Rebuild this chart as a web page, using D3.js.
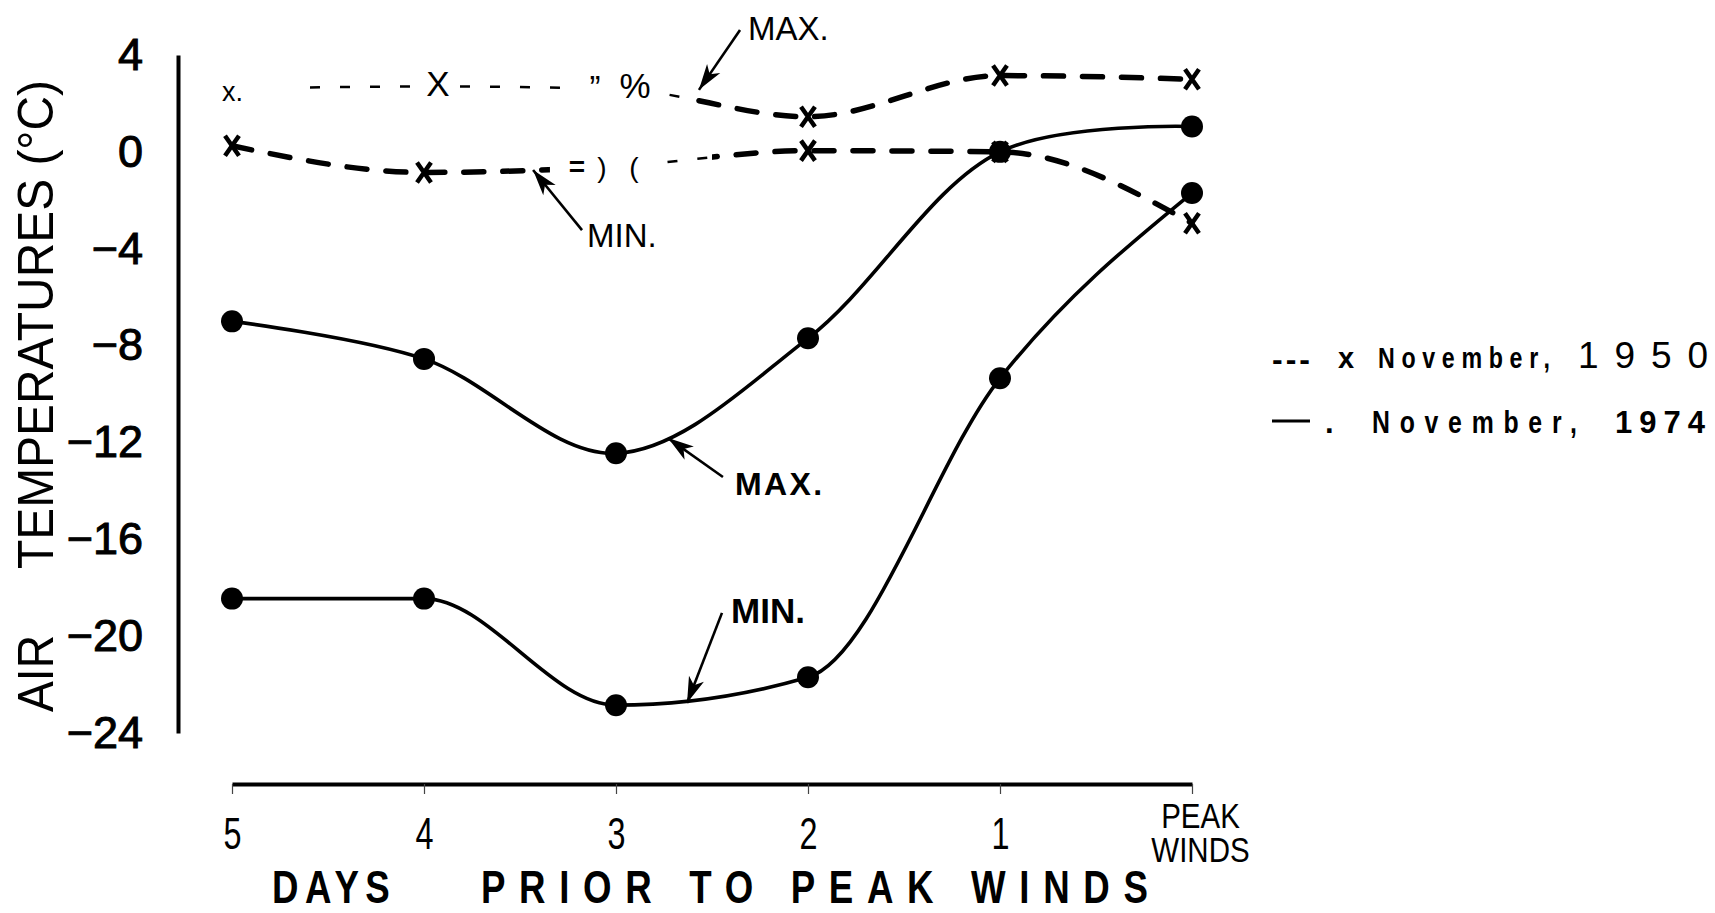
<!DOCTYPE html>
<html>
<head>
<meta charset="utf-8">
<script src="https://cdn.jsdelivr.net/npm/d3@7"></script>
<style>
  body { margin: 0; background: #fff; }
  svg { display: block; }
  text { font-family: "Liberation Sans", Arial, sans-serif; fill: #000; }
</style>
</head>
<body>
<script>
// days before the peak winds
const days = ["5", "4", "3", "2", "1", "PEAK WINDS"];
const max1974 = [-7.0, -8.55, -12.45, -7.7, 0.0, 1.05];
const min1974 = [-18.45, -18.45, -22.85, -21.7, -9.35, -1.7];
const max1950 = [2.6, 2.7, 2.6, 1.45, 3.15, 3.0];
const min1950 = [0.25, -0.85, -0.6, 0.05, 0.0, -2.95];
const yTicks = [4, 0, -4, -8, -12, -16, -20, -24];

const W = 1715, H = 913;
const svg = d3.select("body").append("svg").attr("width", W).attr("height", H);

const x = d3.scalePoint().domain(days).range([232, 1192]);
const xi = d3.scaleLinear().domain([0, days.length - 1]).range([232, 1192]); // fractional day index
const y = d3.scaleLinear().domain([-24, 4]).range([733, 55]);

const lineOf = curve => d3.line()
    .x((d, i) => x(days[i]))
    .y(d => y(d))
    .curve(curve);
const line = lineOf(d3.curveMonotoneX);
const lineRound = lineOf(d3.curveCatmullRom.alpha(0.5));

const defs = svg.append("defs");
defs.append("marker")
    .attr("id", "ah")
    .attr("markerUnits", "userSpaceOnUse")
    .attr("viewBox", "-27 -10 29 20")
    .attr("markerWidth", 29).attr("markerHeight", 20)
    .attr("refX", 0).attr("refY", 0)
    .attr("orient", "auto")
  .append("path")
    .attr("d", "M0,0L-26,-8L-19,0L-26,8Z");

// where the scanned 1950 curves are thick, thin or broken (in day index units)
const clips = {
  maxThick: [[2.375, 6]],
  maxThin: [[0.38, 1.78], [2.2, 2.375]],
  minThick: [[-1, 1.656], [2.5, 6]],
  minThin: [[2.2, 2.5]]
};
Object.entries(clips).forEach(([id, spans]) => {
  let cp = defs.append("clipPath").attr("id", id);
  spans.forEach(([a, b]) => {
    cp.append("rect").attr("x", xi(a)).attr("y", 0).attr("width", xi(b) - xi(a)).attr("height", H);
  });
});

// axes
let ya = svg.append("g")
    .attr("transform", "translate(178,0)")
    .call(d3.axisLeft(y).tickValues(yTicks).tickSize(0).tickSizeOuter(0).tickPadding(35));
ya.attr("font-family", null).attr("font-size", null);
ya.select(".domain").attr("stroke-width", 4);
ya.selectAll("text")
    .attr("font-size", 45)
    .attr("stroke", "#000").attr("stroke-width", 1);

let xa = svg.append("g")
    .attr("transform", "translate(0,784)")
    .call(d3.axisBottom(x).tickSize(10).tickSizeOuter(0).tickPadding(23));
xa.attr("font-family", null).attr("font-size", null);
xa.select(".domain").attr("stroke-width", 4);
xa.selectAll(".tick line").attr("stroke-width", 1.2).attr("stroke", "#444");
xa.selectAll(".tick text")
    .attr("font-family", "Inter, Roboto, 'DejaVu Sans', sans-serif")
    .attr("font-weight", 200)
    .attr("font-size", 45)
    .attr("transform", "scale(0.72,1)");
xa.selectAll(".tick text").filter(d => d === "PEAK WINDS")
    .text(null)
    .attr("font-family", "'Liberation Sans', sans-serif")
    .attr("font-weight", 400)
    .attr("font-size", 36)
    .attr("y", null).attr("dy", null)
    .attr("transform", "translate(8,0) scale(0.82,1)")
    .selectAll("tspan")
    .data(["PEAK", "WINDS"])
    .enter().append("tspan")
    .attr("x", 0)
    .attr("y", (d, i) => 44 + i * 34)
    .text(d => d);

// axis titles
svg.append("text")
    .attr("transform", "translate(53,712) rotate(-90)")
    .attr("font-size", 50)
    .attr("textLength", 77).attr("lengthAdjust", "spacingAndGlyphs")
    .text("AIR");
svg.append("text")
    .attr("transform", "translate(53,569) rotate(-90)")
    .attr("font-size", 50)
    .attr("textLength", 489).attr("lengthAdjust", "spacingAndGlyphs")
    .text("TEMPERATURES (°C)");

svg.append("text")
    .attr("transform", "translate(272,903) scale(0.78,1)")
    .attr("font-size", 47).attr("font-weight", "bold")
    .attr("textLength", 151).attr("lengthAdjust", "spacing")
    .text("DAYS");
svg.append("text")
    .attr("transform", "translate(481,903) scale(0.78,1)")
    .attr("font-size", 47).attr("font-weight", "bold")
    .attr("textLength", 855).attr("lengthAdjust", "spacing")
    .text("PRIOR TO PEAK WINDS");

// 1950 dashed curves
[max1950, min1950].forEach((vals, k) => {
  let thick = k === 0 ? "maxThick" : "minThick";
  let thin = k === 0 ? "maxThin" : "minThin";
  svg.append("path")
      .attr("d", line(vals))
      .attr("fill", "none").attr("stroke", "#000")
      .attr("stroke-width", 5.5).attr("stroke-linecap", "round")
      .attr("stroke-dasharray", "20,19")
      .attr("clip-path", `url(#${thick})`);
  svg.append("path")
      .attr("d", line(vals))
      .attr("fill", "none").attr("stroke", "#000")
      .attr("stroke-width", 2.5)
      .attr("stroke-dasharray", "10,20")
      .attr("stroke-dashoffset", -18)
      .attr("clip-path", `url(#${thin})`);
});

// bold x markers of 1950 (the others came out as stray characters in the scan)
const crossPts = [
  ...[3, 4, 5].map(i => [i, max1950[i]]),
  ...[0, 1, 3, 4, 5].map(i => [i, min1950[i]])
];
svg.selectAll("path.cross")
  .data(crossPts)
  .enter().append("path")
    .attr("class", "cross")
    .attr("transform", d => `translate(${x(days[d[0]])},${y(d[1])})`)
    .attr("d", "M-7,-10L7,10M7,-10L-7,10")
    .attr("stroke", "#000").attr("stroke-width", 4.5).attr("fill", "none");

const stray = [
  {t: "x.", s: max1950, i: 0, dx: -10, dy: 12, size: 27, anchor: "start", w: 400},
  {t: "X", s: max1950, i: 1, dx: 14, dy: 10, size: 35, anchor: "middle", w: 400},
  {t: "\u201d", s: max1950, i: 2, dx: -21, dy: 10, size: 33, anchor: "middle", w: 400},
  {t: "%", s: max1950, i: 2, dx: 19, dy: 9, size: 35, anchor: "middle", w: 400},
  {t: "=", s: min1950, i: 2, dx: -39, dy: 10, size: 28, anchor: "middle", w: 700},
  {t: ")", s: min1950, i: 2, dx: -14, dy: 11, size: 28, anchor: "middle", w: 400},
  {t: "(", s: min1950, i: 2, dx: 18, dy: 11, size: 28, anchor: "middle", w: 400}
];
svg.selectAll("text.stray")
  .data(stray)
  .enter().append("text")
    .attr("class", "stray")
    .attr("x", d => x(days[d.i]) + d.dx)
    .attr("y", d => y(d.s[d.i]) + d.dy)
    .attr("font-size", d => d.size)
    .attr("font-weight", d => d.w)
    .attr("text-anchor", d => d.anchor)
    .attr("stroke", "#fff").attr("stroke-width", 8)
    .attr("paint-order", "stroke")
    .text(d => d.t);

// 1974 solid curves with dots
[[max1974, lineRound], [min1974, line]].forEach(([vals, ln]) => {
  svg.append("path")
      .attr("d", ln(vals))
      .attr("fill", "none").attr("stroke", "#000").attr("stroke-width", 3.6);
  svg.append("g").selectAll("circle")
    .data(vals)
    .enter().append("circle")
      .attr("cx", (d, i) => x(days[i]))
      .attr("cy", d => y(d))
      .attr("r", 11);
});

// arrows and labels, in day index / degree units
const notes = [
  {t: "MAX.", from: [2.646, 5.03], to: [2.432, 2.56], at: [2.6875, 4.62], size: 33, w: 400, len: null},
  {t: "MIN.", from: [1.823, -3.23], to: [1.568, -0.75], at: [1.849, -3.93], size: 33, w: 400, len: null},
  {t: "MAX.", from: [2.557, -13.43], to: [2.271, -11.82], at: [2.62, -14.17], size: 32, w: 700, len: 87},
  {t: "MIN.", from: [2.552, -19.04], to: [2.37, -22.76], at: [2.599, -19.46], size: 35, w: 700, len: null}
];
notes.forEach(n => {
  svg.append("line")
      .attr("x1", xi(n.from[0])).attr("y1", y(n.from[1]))
      .attr("x2", xi(n.to[0])).attr("y2", y(n.to[1]))
      .attr("stroke", "#000").attr("stroke-width", 2.6)
      .attr("marker-end", "url(#ah)");
  let t = svg.append("text")
      .attr("x", xi(n.at[0])).attr("y", y(n.at[1]))
      .attr("font-size", n.size).attr("font-weight", n.w)
      .text(n.t);
  if (n.len) t.attr("textLength", n.len).attr("lengthAdjust", "spacing");
});

// legend
const lg = svg.append("g");
lg.append("text").attr("x", 1272).attr("y", 370)
    .attr("font-size", 32).attr("font-weight", "bold")
    .attr("textLength", 38).attr("lengthAdjust", "spacing").text("---");
lg.append("text").attr("x", 1338).attr("y", 368)
    .attr("font-size", 29).attr("font-weight", "bold").text("x");
lg.append("text").attr("transform", "translate(1378,368) scale(0.8,1)")
    .attr("font-size", 29).attr("font-weight", "bold")
    .attr("textLength", 215).attr("lengthAdjust", "spacing").text("November,");
lg.append("text").attr("x", 1578).attr("y", 368)
    .attr("font-size", 37)
    .attr("textLength", 130).attr("lengthAdjust", "spacing").text("1950");

lg.append("line").attr("x1", 1272).attr("x2", 1310).attr("y1", 421).attr("y2", 421)
    .attr("stroke", "#000").attr("stroke-width", 3);
lg.append("text").attr("x", 1325).attr("y", 433)
    .attr("font-size", 31).attr("font-weight", "bold").text(".");
lg.append("text").attr("transform", "translate(1372,433) scale(0.8,1)")
    .attr("font-size", 31).attr("font-weight", "bold")
    .attr("textLength", 256).attr("lengthAdjust", "spacing").text("November,");
lg.append("text").attr("x", 1615).attr("y", 433)
    .attr("font-size", 31).attr("font-weight", "bold")
    .attr("textLength", 90).attr("lengthAdjust", "spacing").text("1974");
</script>
</body>
</html>
